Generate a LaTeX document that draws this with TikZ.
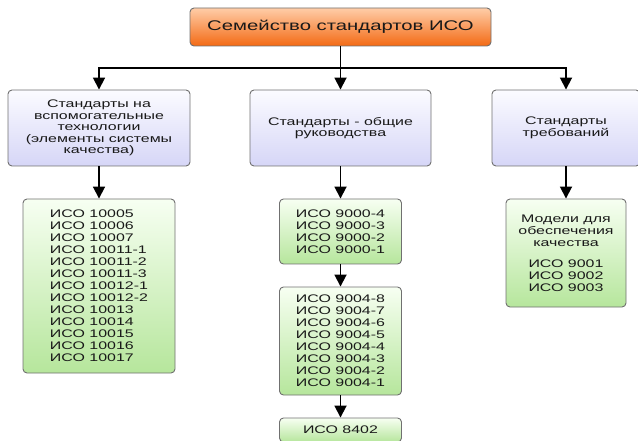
\documentclass[tikz,border=0pt]{standalone}
\usepackage{fontspec}
\setmainfont{Liberation Sans}[FakeStretch=1.45]
\usetikzlibrary{arrows.meta}

\definecolor{orangetop}{HTML}{FFCDA8}
\definecolor{orangebot}{HTML}{F36A14}
\definecolor{lilactop}{HTML}{FBFBFF}
\definecolor{lilacbot}{HTML}{D6D6F7}
\definecolor{greentop}{HTML}{F7FFF2}
\definecolor{greenbot}{HTML}{B6E69C}
\definecolor{framegray}{HTML}{707070}

\begin{document}
\begin{tikzpicture}[x=1pt,y=-1pt,
    boxstyle/.style={draw=framegray, line width=0.9pt, rounded corners=4pt, inner sep=2pt, text=black!90},
    topstyle/.style={boxstyle, top color=orangetop, bottom color=orangebot, minimum width=301pt, minimum height=38pt, font=\fontsize{14}{16}\selectfont},
    headstyle/.style={boxstyle, top color=lilactop, bottom color=lilacbot, minimum height=76pt, align=center, font=\fontsize{11}{11.5}\selectfont},
    liststyle/.style={boxstyle, top color=greentop, bottom color=greenbot, font=\fontsize{11}{12}\selectfont},
    link/.style={-{Triangle[width=12pt,length=12pt]}, line width=1.8pt}]

    \useasboundingbox (0,0) rectangle (638,441);

    \newcommand*{\buslevel}{68}%
    \newcommand*{\midcol}{340.5}%

    % top ↓
    \node[topstyle] (iso) at (\midcol,27) {Семейство стандартов ИСО};
    \coordinate (bus) at (\midcol,\buslevel);

    % groups ↓
    \node[headstyle, minimum width=182pt] (aux) at (99,128)
        {Стандарты на\\вспомогательные\\технологии\\(элементы системы\\качества)};
    \node[headstyle, minimum width=181pt] (guide) at (\midcol,128)
        {Стандарты - общие\\руководства};
    \node[headstyle, minimum width=148pt] (req) at (566,128)
        {Стандарты\\требований};

    % lists ↓
    \node[liststyle, align=left, minimum width=152pt, minimum height=174pt] (auxlist) at (99,286)
        {ИСО 10005\\ИСО 10006\\ИСО 10007\\ИСО 10011-1\\ИСО 10011-2\\ИСО 10011-3\\ИСО 10012-1\\ИСО 10012-2\\ИСО 10013\\ИСО 10014\\ИСО 10015\\ИСО 10016\\ИСО 10017};
    \node[liststyle, align=left, minimum width=122pt, minimum height=65pt] (guideone) at (\midcol,231.5)
        {ИСО 9000-4\\ИСО 9000-3\\ИСО 9000-2\\ИСО 9000-1};
    \node[liststyle, align=left, minimum width=122pt, minimum height=108pt] (guidetwo) at (\midcol,341)
        {ИСО 9004-8\\ИСО 9004-7\\ИСО 9004-6\\ИСО 9004-5\\ИСО 9004-4\\ИСО 9004-3\\ИСО 9004-2\\ИСО 9004-1};
    \node[liststyle, minimum width=122pt, minimum height=24pt] (guidethree) at (\midcol,430)
        {ИСО 8402};
    \node[liststyle, align=center, minimum width=120pt, minimum height=108pt] (reqlist) at (566,253)
        {Модели для\\обеспечения\\качества\\[9pt]ИСО 9001\\ИСО 9002\\ИСО 9003};

    % links ↓
    \draw[link] (iso) -- (guide);
    \draw[link] (bus) -| (aux);
    \draw[link] (bus) -| (req);
    \draw[link] (aux) -- (auxlist);
    \draw[link] (guide) -- (guideone);
    \draw[link] (guideone) -- (guidetwo);
    \draw[link] (guidetwo) -- (guidethree);
    \draw[link] (req) -- (reqlist);

\end{tikzpicture}
\end{document}
